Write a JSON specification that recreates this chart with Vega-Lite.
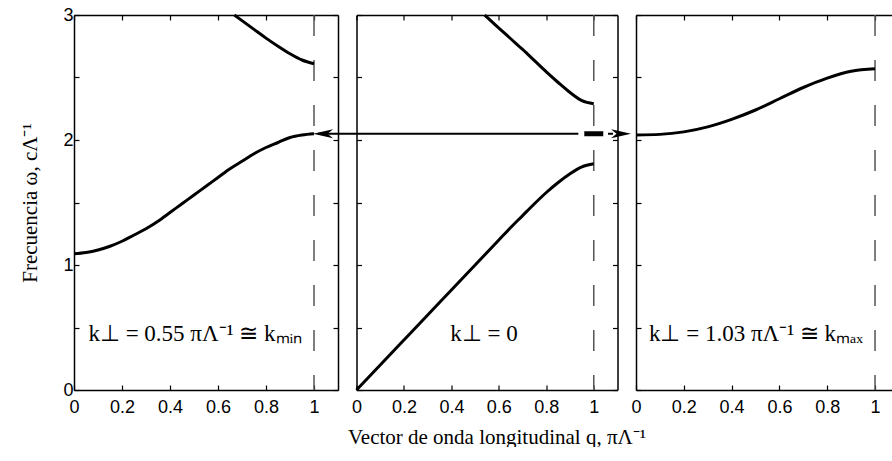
{
  "$schema": "https://vega.github.io/schema/vega-lite/v6.json",
  "padding": {"left": 19, "top": 6, "right": 0, "bottom": 0},
  "background": "white",
  "spacing": 18.5,
  "bounds": "flush",
  "config": {
    "view": {"stroke": null},
    "axis": {
      "domainColor": "black", "domainWidth": 1.5, "tickColor": "black", "tickSize": -5, "tickWidth": 1.2,
      "grid": false, "labelFont": "Liberation Sans", "labelFontSize": 18, "labelColor": "black",
      "labelPadding": 7, "labelFlush": false, "titleFont": "Liberation Serif", "titleFontSize": 21,
      "titleFontWeight": "normal", "titleColor": "black", "minExtent": 0
    }
  },
  "datasets": {
    "curves": [
      {"panel": "a", "band": "lower", "q": 0.0, "w": 1.09},
      {"panel": "a", "band": "lower", "q": 0.05, "w": 1.10},
      {"panel": "a", "band": "lower", "q": 0.1, "w": 1.12},
      {"panel": "a", "band": "lower", "q": 0.15, "w": 1.15},
      {"panel": "a", "band": "lower", "q": 0.2, "w": 1.19},
      {"panel": "a", "band": "lower", "q": 0.25, "w": 1.24},
      {"panel": "a", "band": "lower", "q": 0.3, "w": 1.29},
      {"panel": "a", "band": "lower", "q": 0.35, "w": 1.35},
      {"panel": "a", "band": "lower", "q": 0.4, "w": 1.42},
      {"panel": "a", "band": "lower", "q": 0.45, "w": 1.49},
      {"panel": "a", "band": "lower", "q": 0.5, "w": 1.56},
      {"panel": "a", "band": "lower", "q": 0.55, "w": 1.63},
      {"panel": "a", "band": "lower", "q": 0.6, "w": 1.70},
      {"panel": "a", "band": "lower", "q": 0.65, "w": 1.77},
      {"panel": "a", "band": "lower", "q": 0.7, "w": 1.83},
      {"panel": "a", "band": "lower", "q": 0.75, "w": 1.89},
      {"panel": "a", "band": "lower", "q": 0.8, "w": 1.94},
      {"panel": "a", "band": "lower", "q": 0.85, "w": 1.98},
      {"panel": "a", "band": "lower", "q": 0.9, "w": 2.02},
      {"panel": "a", "band": "lower", "q": 0.95, "w": 2.04},
      {"panel": "a", "band": "lower", "q": 1.0, "w": 2.05},
      {"panel": "a", "band": "upper", "q": 0.668, "w": 3.0},
      {"panel": "a", "band": "upper", "q": 0.7, "w": 2.955},
      {"panel": "a", "band": "upper", "q": 0.75, "w": 2.885},
      {"panel": "a", "band": "upper", "q": 0.8, "w": 2.815},
      {"panel": "a", "band": "upper", "q": 0.85, "w": 2.75},
      {"panel": "a", "band": "upper", "q": 0.9, "w": 2.69},
      {"panel": "a", "band": "upper", "q": 0.95, "w": 2.64},
      {"panel": "a", "band": "upper", "q": 1.0, "w": 2.61},
      {"panel": "b", "band": "lower", "q": 0.0, "w": 0.0},
      {"panel": "b", "band": "lower", "q": 0.1, "w": 0.2},
      {"panel": "b", "band": "lower", "q": 0.2, "w": 0.4},
      {"panel": "b", "band": "lower", "q": 0.3, "w": 0.6},
      {"panel": "b", "band": "lower", "q": 0.4, "w": 0.8},
      {"panel": "b", "band": "lower", "q": 0.5, "w": 1.0},
      {"panel": "b", "band": "lower", "q": 0.6, "w": 1.2},
      {"panel": "b", "band": "lower", "q": 0.65, "w": 1.3},
      {"panel": "b", "band": "lower", "q": 0.7, "w": 1.395},
      {"panel": "b", "band": "lower", "q": 0.75, "w": 1.49},
      {"panel": "b", "band": "lower", "q": 0.8, "w": 1.58},
      {"panel": "b", "band": "lower", "q": 0.85, "w": 1.66},
      {"panel": "b", "band": "lower", "q": 0.9, "w": 1.73},
      {"panel": "b", "band": "lower", "q": 0.95, "w": 1.785},
      {"panel": "b", "band": "lower", "q": 1.0, "w": 1.81},
      {"panel": "b", "band": "upper", "q": 0.54, "w": 3.0},
      {"panel": "b", "band": "upper", "q": 0.6, "w": 2.895},
      {"panel": "b", "band": "upper", "q": 0.65, "w": 2.81},
      {"panel": "b", "band": "upper", "q": 0.7, "w": 2.725},
      {"panel": "b", "band": "upper", "q": 0.75, "w": 2.635},
      {"panel": "b", "band": "upper", "q": 0.8, "w": 2.545},
      {"panel": "b", "band": "upper", "q": 0.85, "w": 2.46},
      {"panel": "b", "band": "upper", "q": 0.9, "w": 2.38},
      {"panel": "b", "band": "upper", "q": 0.95, "w": 2.315},
      {"panel": "b", "band": "upper", "q": 1.0, "w": 2.29},
      {"panel": "c", "band": "lower", "q": 0.0, "w": 2.04},
      {"panel": "c", "band": "lower", "q": 0.1, "w": 2.045},
      {"panel": "c", "band": "lower", "q": 0.2, "w": 2.065},
      {"panel": "c", "band": "lower", "q": 0.3, "w": 2.105},
      {"panel": "c", "band": "lower", "q": 0.4, "w": 2.165},
      {"panel": "c", "band": "lower", "q": 0.5, "w": 2.24},
      {"panel": "c", "band": "lower", "q": 0.6, "w": 2.33},
      {"panel": "c", "band": "lower", "q": 0.7, "w": 2.42},
      {"panel": "c", "band": "lower", "q": 0.8, "w": 2.495},
      {"panel": "c", "band": "lower", "q": 0.9, "w": 2.55},
      {"panel": "c", "band": "lower", "q": 1.0, "w": 2.57}
    ],
    "vline": [{"q": 1}],
    "frame": [{"q": 0, "w": 0}],
    "notes": [
      {"panel": "a", "q": 0.06, "w": 0.45, "label": "k⊥ = 0.55 πΛ⁻¹ ≅ kₘᵢₙ"},
      {"panel": "b", "q": 0.537, "w": 0.45, "label": "k⊥ = 0"},
      {"panel": "c", "q": 0.054, "w": 0.45, "label": "k⊥ = 1.03 πΛ⁻¹ ≅ kₘₐₓ"}
    ],
    "arrowline": [
      {"part": "solid", "q1": -0.16, "q2": 0.935, "w": 2.05},
      {"part": "thick", "q1": 0.96, "q2": 1.04, "w": 2.05},
      {"part": "dashed", "q1": 1.06, "q2": 1.1, "w": 2.05}
    ],
    "heads": [
      {"dir": "left", "q": -0.141, "w": 2.05},
      {"dir": "right", "q": 1.115, "w": 2.05}
    ]
  },
  "hconcat": [
    {
      "width": 264, "height": 375,
      "resolve": {"axis": {"x": "independent", "y": "independent"}},
      "layer": [
        {
          "data": {"name": "vline"},
          "mark": {"type": "rule", "color": "#555", "strokeWidth": 1.5, "strokeDash": [21, 24]},
          "encoding": {"x": {"field": "q", "type": "quantitative", "scale": {"domain": [0, 1.1], "nice": false, "zero": false}, "axis": null}}
        },
        {
          "data": {"name": "curves"},
          "transform": [{"filter": "datum.panel === 'a'"}],
          "mark": {"type": "line", "color": "black", "strokeWidth": 3, "interpolate": "monotone"},
          "encoding": {
            "x": {"field": "q", "type": "quantitative", "scale": {"domain": [0, 1.1], "nice": false, "zero": false},
                  "axis": {"orient": "bottom", "values": [0, 0.2, 0.4, 0.6, 0.8, 1], "format": "~g", "title": null, "labelPadding": 13}},
            "y": {"field": "w", "type": "quantitative", "scale": {"domain": [0, 3], "nice": false},
                  "axis": {"orient": "left", "values": [0, 0.5, 1, 1.5, 2, 2.5, 3], "format": "~g", "labelExpr": "datum.value % 1 === 0 ? datum.label : ''",
                           "title": "Frecuencia ω,  cΛ⁻¹", "titlePadding": 22, "labelPadding": 6}},
            "detail": {"field": "band"}
          }
        },
        {
          "data": {"name": "frame"},
          "mark": {"type": "point", "opacity": 0},
          "encoding": {
            "x": {"field": "q", "type": "quantitative", "scale": {"domain": [0, 1.1], "nice": false, "zero": false},
                  "axis": {"orient": "top", "values": [0, 0.2, 0.4, 0.6, 0.8, 1], "labels": false, "title": null}},
            "y": {"field": "w", "type": "quantitative", "scale": {"domain": [0, 3], "nice": false},
                  "axis": {"orient": "right", "values": [0, 0.5, 1, 1.5, 2, 2.5, 3], "labels": false, "title": null}}
          }
        },
        {
          "data": {"name": "notes"},
          "transform": [{"filter": "datum.panel === 'a'"}],
          "mark": {"type": "text", "align": "left", "baseline": "middle", "font": "Liberation Serif", "fontSize": 23, "color": "black"},
          "encoding": {
            "x": {"field": "q", "type": "quantitative", "scale": {"domain": [0, 1.1], "nice": false, "zero": false}, "axis": null},
            "y": {"field": "w", "type": "quantitative", "scale": {"domain": [0, 3], "nice": false}, "axis": null},
            "text": {"field": "label"}
          }
        }
      ]
    },
    {
      "width": 261, "height": 375,
      "resolve": {"axis": {"x": "independent", "y": "independent"}},
      "layer": [
        {
          "data": {"name": "vline"},
          "mark": {"type": "rule", "color": "#555", "strokeWidth": 1.5, "strokeDash": [21, 24]},
          "encoding": {"x": {"field": "q", "type": "quantitative", "scale": {"domain": [0, 1.1], "nice": false, "zero": false}, "axis": null}}
        },
        {
          "data": {"name": "curves"},
          "transform": [{"filter": "datum.panel === 'b'"}],
          "mark": {"type": "line", "color": "black", "strokeWidth": 3, "interpolate": "monotone"},
          "encoding": {
            "x": {"field": "q", "type": "quantitative", "scale": {"domain": [0, 1.1], "nice": false, "zero": false},
                  "axis": {"orient": "bottom", "values": [0, 0.2, 0.4, 0.6, 0.8, 1], "format": "~g", "labelPadding": 13,
                           "title": "Vector de onda longitudinal q,  πΛ⁻¹", "titlePadding": 10, "titleX": 140}},
            "y": {"field": "w", "type": "quantitative", "scale": {"domain": [0, 3], "nice": false},
                  "axis": {"orient": "left", "values": [0, 0.5, 1, 1.5, 2, 2.5, 3], "labels": false, "title": null}},
            "detail": {"field": "band"}
          }
        },
        {
          "data": {"name": "frame"},
          "mark": {"type": "point", "opacity": 0},
          "encoding": {
            "x": {"field": "q", "type": "quantitative", "scale": {"domain": [0, 1.1], "nice": false, "zero": false},
                  "axis": {"orient": "top", "values": [0, 0.2, 0.4, 0.6, 0.8, 1], "labels": false, "title": null}},
            "y": {"field": "w", "type": "quantitative", "scale": {"domain": [0, 3], "nice": false},
                  "axis": {"orient": "right", "values": [0, 0.5, 1, 1.5, 2, 2.5, 3], "labels": false, "title": null}}
          }
        },
        {
          "data": {"name": "arrowline"},
          "transform": [{"filter": "datum.part === 'solid'"}],
          "mark": {"type": "rule", "color": "black", "strokeWidth": 2},
          "encoding": {
            "x": {"field": "q1", "type": "quantitative", "scale": {"domain": [0, 1.1], "nice": false, "zero": false}, "axis": null},
            "x2": {"field": "q2"},
            "y": {"field": "w", "type": "quantitative", "scale": {"domain": [0, 3], "nice": false}, "axis": null}
          }
        },
        {
          "data": {"name": "arrowline"},
          "transform": [{"filter": "datum.part === 'thick'"}],
          "mark": {"type": "rule", "color": "black", "strokeWidth": 5},
          "encoding": {
            "x": {"field": "q1", "type": "quantitative", "scale": {"domain": [0, 1.1], "nice": false, "zero": false}, "axis": null},
            "x2": {"field": "q2"},
            "y": {"field": "w", "type": "quantitative", "scale": {"domain": [0, 3], "nice": false}, "axis": null}
          }
        },
        {
          "data": {"name": "arrowline"},
          "transform": [{"filter": "datum.part === 'dashed'"}],
          "mark": {"type": "rule", "color": "black", "strokeWidth": 2, "strokeDash": [5, 4]},
          "encoding": {
            "x": {"field": "q1", "type": "quantitative", "scale": {"domain": [0, 1.1], "nice": false, "zero": false}, "axis": null},
            "x2": {"field": "q2"},
            "y": {"field": "w", "type": "quantitative", "scale": {"domain": [0, 3], "nice": false}, "axis": null}
          }
        },
        {
          "data": {"name": "heads"},
          "transform": [{"filter": "datum.dir === 'left'"}],
          "mark": {"type": "point", "filled": true, "color": "black", "opacity": 1, "size": 400, "shape": "M-1,0 L1,-0.45 L0.45,0 L1,0.45 Z"},
          "encoding": {
            "x": {"field": "q", "type": "quantitative", "scale": {"domain": [0, 1.1], "nice": false, "zero": false}, "axis": null},
            "y": {"field": "w", "type": "quantitative", "scale": {"domain": [0, 3], "nice": false}, "axis": null}
          }
        },
        {
          "data": {"name": "heads"},
          "transform": [{"filter": "datum.dir === 'right'"}],
          "mark": {"type": "point", "filled": true, "color": "black", "opacity": 1, "size": 400, "shape": "M1,0 L-1,-0.45 L-0.45,0 L-1,0.45 Z"},
          "encoding": {
            "x": {"field": "q", "type": "quantitative", "scale": {"domain": [0, 1.1], "nice": false, "zero": false}, "axis": null},
            "y": {"field": "w", "type": "quantitative", "scale": {"domain": [0, 3], "nice": false}, "axis": null}
          }
        },
        {
          "data": {"name": "notes"},
          "transform": [{"filter": "datum.panel === 'b'"}],
          "mark": {"type": "text", "align": "center", "baseline": "middle", "font": "Liberation Serif", "fontSize": 23, "color": "black"},
          "encoding": {
            "x": {"field": "q", "type": "quantitative", "scale": {"domain": [0, 1.1], "nice": false, "zero": false}, "axis": null},
            "y": {"field": "w", "type": "quantitative", "scale": {"domain": [0, 3], "nice": false}, "axis": null},
            "text": {"field": "label"}
          }
        }
      ]
    },
    {
      "width": 256, "height": 375,
      "resolve": {"axis": {"x": "independent", "y": "independent"}},
      "layer": [
        {
          "data": {"name": "vline"},
          "mark": {"type": "rule", "color": "#555", "strokeWidth": 1.5, "strokeDash": [21, 24]},
          "encoding": {"x": {"field": "q", "type": "quantitative", "scale": {"domain": [0, 1.071], "nice": false, "zero": false}, "axis": null}}
        },
        {
          "data": {"name": "curves"},
          "transform": [{"filter": "datum.panel === 'c'"}],
          "mark": {"type": "line", "color": "black", "strokeWidth": 3, "interpolate": "monotone"},
          "encoding": {
            "x": {"field": "q", "type": "quantitative", "scale": {"domain": [0, 1.071], "nice": false, "zero": false},
                  "axis": {"orient": "bottom", "values": [0, 0.2, 0.4, 0.6, 0.8, 1], "format": "~g", "title": null, "labelPadding": 13}},
            "y": {"field": "w", "type": "quantitative", "scale": {"domain": [0, 3], "nice": false},
                  "axis": {"orient": "left", "values": [0, 0.5, 1, 1.5, 2, 2.5, 3], "labels": false, "title": null}},
            "detail": {"field": "band"}
          }
        },
        {
          "data": {"name": "frame"},
          "mark": {"type": "point", "opacity": 0},
          "encoding": {
            "x": {"field": "q", "type": "quantitative", "scale": {"domain": [0, 1.071], "nice": false, "zero": false},
                  "axis": {"orient": "top", "values": [0, 0.2, 0.4, 0.6, 0.8, 1], "labels": false, "title": null}}
          }
        },
        {
          "data": {"name": "notes"},
          "transform": [{"filter": "datum.panel === 'c'"}],
          "mark": {"type": "text", "align": "left", "baseline": "middle", "font": "Liberation Serif", "fontSize": 23, "color": "black"},
          "encoding": {
            "x": {"field": "q", "type": "quantitative", "scale": {"domain": [0, 1.071], "nice": false, "zero": false}, "axis": null},
            "y": {"field": "w", "type": "quantitative", "scale": {"domain": [0, 3], "nice": false}, "axis": null},
            "text": {"field": "label"}
          }
        }
      ]
    }
  ]
}
